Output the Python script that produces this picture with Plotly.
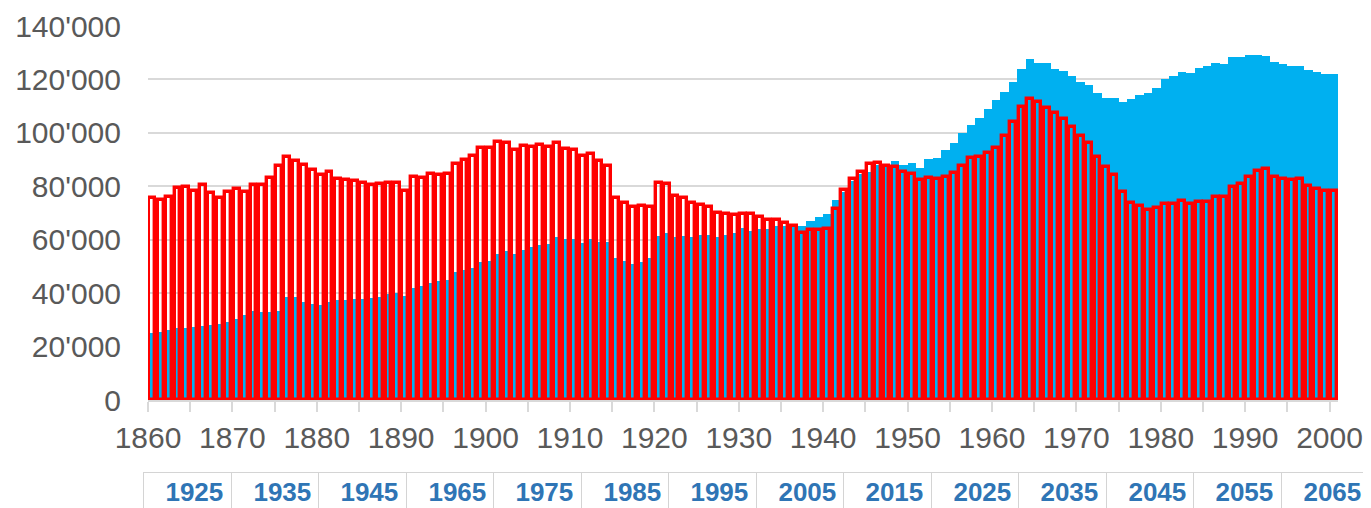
import plotly.graph_objects as go

years = list(range(1860, 2001))

blue_values = [
    25000, 25600, 26200, 26900, 27000, 27300, 27600, 28000, 28600, 29100,
    30200, 31700, 33500, 32900, 32900, 33500, 38400, 38400, 36800, 35900,
    35500, 36500, 37300, 37500, 37700, 37700, 38300, 38500, 39500, 39900,
    38900, 42100, 42600, 43900, 44500, 45100, 48000, 48500, 49600, 51800,
    52100, 54800, 55700, 54700, 56300, 57300, 58200, 58500, 60900, 60300,
    60400, 58800, 60300, 59000, 59000, 53100, 52200, 50900, 51800, 53300,
    61500, 62700, 61100, 61500, 61100, 61900, 61900, 60900, 61900, 62500,
    64200, 63100, 64100, 64000, 65200, 65300, 65000, 65000, 67100, 68600,
    69700, 74700, 77800, 82000, 84500, 85300, 88000, 88000, 89400, 88000,
    88900, 87000, 90200, 90700, 93500, 96200, 100000, 102900, 105400, 109100,
    112300, 115400, 119100, 123800, 127500, 126000, 126000, 123800, 123100, 121300,
    118900, 118100, 115100, 112900, 112900, 111600, 112500, 114100, 115100, 116900,
    120100, 121300, 122900, 122500, 124100, 125000, 126000, 125800, 128500, 128300,
    129100, 129100, 128900, 126600, 125800, 125100, 125100, 123500, 122600, 121900,
    122000,
]

red_values = [
    75500, 75000, 76000, 79300, 79700, 78300, 80600, 77500, 75600, 77800,
    79100, 77800, 80300, 80600, 83000, 87500, 90800, 89300, 88000, 86200,
    84300, 85200, 82700, 82200, 81800, 81400, 80600, 80900, 81200, 81200,
    78300, 83400, 83100, 84700, 84300, 84700, 88400, 89900, 91500, 94200,
    94200, 96700, 96100, 93400, 94900, 94600, 95500, 94700, 96100, 94000,
    93400, 91500, 92100, 89600, 87600, 75600, 73700, 72200, 72700, 72100,
    81200, 80900, 76200, 75600, 73700, 72900, 72200, 70000, 69800, 69100,
    69800, 69600, 68400, 67500, 67300, 66200, 65000, 62600, 63800, 63800,
    63900, 71600, 78600, 82800, 85300, 88400, 88900, 87500, 87400, 85300,
    84700, 82200, 83100, 82800, 83600, 84800, 87600, 90700, 91100, 92600,
    94200, 98800, 103900, 109600, 112600, 111700, 109400, 107300, 105100, 102300,
    98800, 96100, 91100, 87300, 84200, 77900, 73800, 72600, 71100, 71700,
    73300, 73300, 74400, 73300, 74200, 74200, 76100, 76100, 79800, 80700,
    83600, 85800, 86400, 83600, 82900, 82300, 82700, 80100, 78800, 78200,
    78200,
]

tick_years = list(range(1860, 2001, 5))
tick_labels = [str(y) if y % 10 == 0 else "" for y in tick_years]

table_labels = ["1925", "1935", "1945", "1965", "1975", "1985", "1995",
                "2005", "2015", "2025", "2035", "2045", "2055", "2065"]

x_title = "Geburtsjahr"

# page is 1371x508; the html body adds an 8px margin, so compensate
OFF = 8
W, H = 1371 - OFF, 508 - OFF
ML, MR, MT, MB = 148 - OFF, 33, 26 - OFF, 108
PW = W - ML - MR
PH = H - MT - MB

BLUE = "#00B0F0"
RED = "#FF0000"
GRID = "#D9D9D9"
TXT = "#595959"
CELL_TXT = "#2F75B5"

red_w = 0.70

fig = go.Figure()
fig.add_trace(go.Bar(
    x=years, y=blue_values, width=1.0, offset=0.0,
    marker=dict(color=BLUE, line=dict(width=0)),
    showlegend=False, hoverinfo="x+y",
))
fig.add_trace(go.Bar(
    x=years, y=red_values, width=red_w, offset=(1 - red_w) / 2,
    marker=dict(color="rgba(0,0,0,0)", line=dict(color=RED, width=3.4)),
    showlegend=False, hoverinfo="x+y",
))

def px_to_paper_x(px):
    # px in page pixels
    return (px - OFF - ML) / PW

def px_to_paper_y(py):
    return (H - MB - (py - OFF)) / PH

annotations = []
# axis title (mostly hidden behind the table row)
annotations.append(dict(
    text=x_title, xref="paper", yref="paper",
    x=px_to_paper_x(722), y=px_to_paper_y(466.5),
    xanchor="center", yanchor="top", showarrow=False,
    font=dict(family="Liberation Sans, Arial, sans-serif", size=30, color=TXT),
))

cell_left = 143
cell_w = 87.5
cell_top = 471.5
for i, lab in enumerate(table_labels):
    annotations.append(dict(
        text="<b>" + lab + "</b>&nbsp;",
        xref="paper", yref="paper",
        x=px_to_paper_x(cell_left + i * cell_w), y=px_to_paper_y(cell_top),
        xanchor="left", yanchor="top", showarrow=False,
        width=cell_w - 1, height=38, align="right", valign="middle",
        bgcolor="white", bordercolor="#D4D4D4", borderwidth=1, borderpad=0,
        font=dict(family="Liberation Sans, Arial, sans-serif",
                  size=26, color=CELL_TXT),
    ))

fig.update_layout(
    width=W, height=H,
    margin=dict(l=ML, r=MR, t=MT, b=MB, pad=0, autoexpand=False),
    paper_bgcolor="white", plot_bgcolor="white",
    barmode="overlay", bargap=0,
    separators=".'",
    font=dict(family="Liberation Sans, Arial, sans-serif", color=TXT, size=30),
    annotations=annotations,
)
fig.update_xaxes(
    range=[1860, 2001], tickmode="array", tickvals=tick_years, ticktext=tick_labels,
    ticks="outside", ticklen=10, tickwidth=1.5, tickcolor=GRID,
    showline=True, linecolor=GRID, linewidth=1.5,
    showgrid=False, zeroline=False, automargin=False,
    tickfont=dict(size=30, color=TXT), tickangle=0,
)
fig.update_yaxes(
    range=[0, 140000], tickmode="linear", tick0=0, dtick=20000, tickformat=",d",
    showgrid=True, gridcolor=GRID, gridwidth=1.5,
    zeroline=False, showline=False, ticks="", automargin=False,
    ticklabelstandoff=26,
    tickfont=dict(size=30, color=TXT),
)

fig.write_html("out.html")
